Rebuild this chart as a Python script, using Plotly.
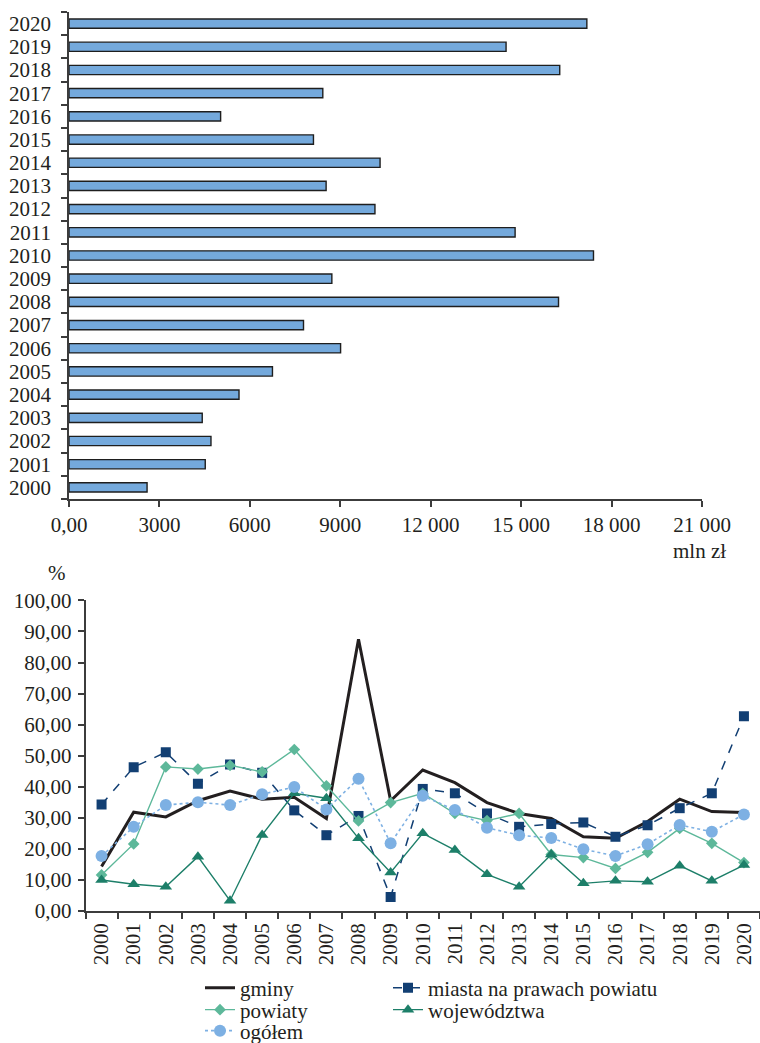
import plotly.graph_objects as go

# ---- data ----------------------------------------------------------------
years = [str(y) for y in range(2000, 2021)]

# top panel: amount per year, mln zł
amount_mln = [2590, 4520, 4710, 4420, 5640, 6750, 9010, 7780, 16240, 8720,
              17400, 14800, 10150, 8530, 10320, 8110, 5030, 8420, 16280,
              14500, 17180]

# bottom panel: shares in %
gminy = [14.3, 31.8, 30.3, 35.5, 38.6, 36.0, 36.6, 29.8, 87.5, 35.5,
         45.4, 41.3, 34.9, 31.4, 29.8, 23.9, 23.4, 28.8, 36.0, 32.0, 31.7]
miasta_npp = [34.3, 46.3, 51.1, 41.0, 47.2, 44.5, 32.4, 24.4, 30.6, 4.5,
              39.3, 37.9, 31.4, 27.1, 28.0, 28.5, 23.9, 27.6, 33.1, 37.9, 62.7]
powiaty = [11.6, 21.6, 46.4, 45.7, 46.9, 44.8, 52.0, 40.3, 29.0, 34.9,
           37.9, 31.4, 29.1, 31.4, 18.2, 17.2, 13.7, 18.9, 26.6, 21.8, 15.6]
wojewodztwa = [10.0, 8.6, 7.8, 17.5, 3.3, 24.5, 37.9, 36.3, 23.4, 12.4,
               25.0, 19.6, 11.8, 7.8, 18.2, 8.9, 9.7, 9.4, 14.6, 9.7, 14.8]
ogolem = [17.7, 27.1, 34.1, 35.0, 34.1, 37.6, 39.9, 32.7, 42.6, 21.8,
          37.1, 32.5, 26.8, 24.4, 23.5, 19.9, 17.7, 21.5, 27.7, 25.5, 31.1]

x_ticks = [0, 3000, 6000, 9000, 12000, 15000, 18000, 21000]
x_ticktext = ["0,00", "3000", "6000", "9000", "12 000", "15 000", "18 000", "21 000"]
y_ticks = list(range(0, 101, 10))
y_ticktext = [f"{v},00" for v in y_ticks]

# ---- layout helpers -------------------------------------------------------
W, H = 760, 1043
FONT = "Liberation Serif, Times New Roman, serif"
INK = "#231F20"
AXIS = "#3C3C3C"


def px_x(p):
    return p / W


def px_y(p):
    return 1 - p / H


fig = go.Figure()

fig.add_trace(go.Bar(
    x=amount_mln, y=years, orientation="h", width=0.4,
    marker=dict(color="#74A9DC", line=dict(color="#1E1E1E", width=1.4)),
    xaxis="x", yaxis="y", showlegend=False,
))

series = [
    ("gminy", gminy, dict(color="#231F20", width=3, dash="solid"), None, "legend"),
    ("miasta na prawach powiatu", miasta_npp, dict(color="#123F73", width=1.5, dash="dash"),
     dict(symbol="square", size=10, color="#123F73"), "legend2"),
    ("powiaty", powiaty, dict(color="#5DB89A", width=1.4, dash="solid"),
     dict(symbol="diamond", size=9, color="#5DB89A"), "legend3"),
    ("województwa", wojewodztwa, dict(color="#1D7F69", width=1.4, dash="solid"),
     dict(symbol="triangle-up", size=11, color="#1D7F69"), "legend4"),
    ("ogółem", ogolem, dict(color="#7DB0E3", width=1.6, dash="dot"),
     dict(symbol="circle", size=12, color="#7DB0E3"), "legend5"),
]
for name, vals, line, marker, leg in series:
    fig.add_trace(go.Scatter(
        x=years, y=vals, name=name,
        mode="lines" if marker is None else "lines+markers",
        line=line, marker=marker,
        xaxis="x2", yaxis="y2", legend=leg,
    ))

axis_common = dict(
    showline=True, linecolor=AXIS, linewidth=1.5,
    ticks="outside", tickcolor=AXIS, tickwidth=1.5, ticklen=6,
    showgrid=False, zeroline=False, automargin=False,
    tickfont=dict(family=FONT, size=21, color=INK),
)

legend_font = dict(family=FONT, size=21, color=INK)
legend_pos = {
    "legend": (200, 988), "legend2": (388, 988),
    "legend3": (200, 1010), "legend4": (388, 1010),
    "legend5": (200, 1031),
}
legends = {
    k: dict(x=px_x(xp), y=px_y(yp), xanchor="left", yanchor="middle",
            font=legend_font, bgcolor="rgba(0,0,0,0)", borderwidth=0)
    for k, (xp, yp) in legend_pos.items()
}

fig.update_layout(
    width=W, height=H,
    margin=dict(l=0, r=0, t=0, b=0, pad=0, autoexpand=False),
    paper_bgcolor="white", plot_bgcolor="white",
    font=dict(family=FONT, size=21, color=INK),
    xaxis=dict(domain=[px_x(69), px_x(702)], anchor="y", range=[0, 21000],
               tickvals=x_ticks, ticktext=x_ticktext, **axis_common),
    yaxis=dict(domain=[px_y(499), px_y(12)], anchor="x", type="category",
               categoryorder="array", categoryarray=years, range=[-0.5, 20.5],
               tickmode="array", tickvals=years, ticklabelstandoff=12,
               tickson="boundaries", **axis_common),
    xaxis2=dict(domain=[px_x(85.5), 1.0], anchor="y2", type="category",
                categoryorder="array", categoryarray=years, range=[-0.5, 20.5],
                tickmode="array", tickvals=years, ticklabelstandoff=2,
                tickson="boundaries", tickangle=-90, **axis_common),
    yaxis2=dict(domain=[px_y(911), px_y(600.4)], anchor="x2", range=[0, 100],
                tickvals=y_ticks, ticktext=y_ticktext, ticklabelstandoff=2,
                **axis_common),
    showlegend=True,
    **legends,
    annotations=[
        dict(text="mln zł", x=px_x(728), y=px_y(551), xref="paper", yref="paper",
             xanchor="right", yanchor="middle", showarrow=False,
             font=dict(family=FONT, size=21, color=INK)),
        dict(text="%", x=px_x(57), y=px_y(573), xref="paper", yref="paper",
             xanchor="center", yanchor="middle", showarrow=False,
             font=dict(family=FONT, size=21, color=INK)),
    ],
)

fig.write_html("out.html")
